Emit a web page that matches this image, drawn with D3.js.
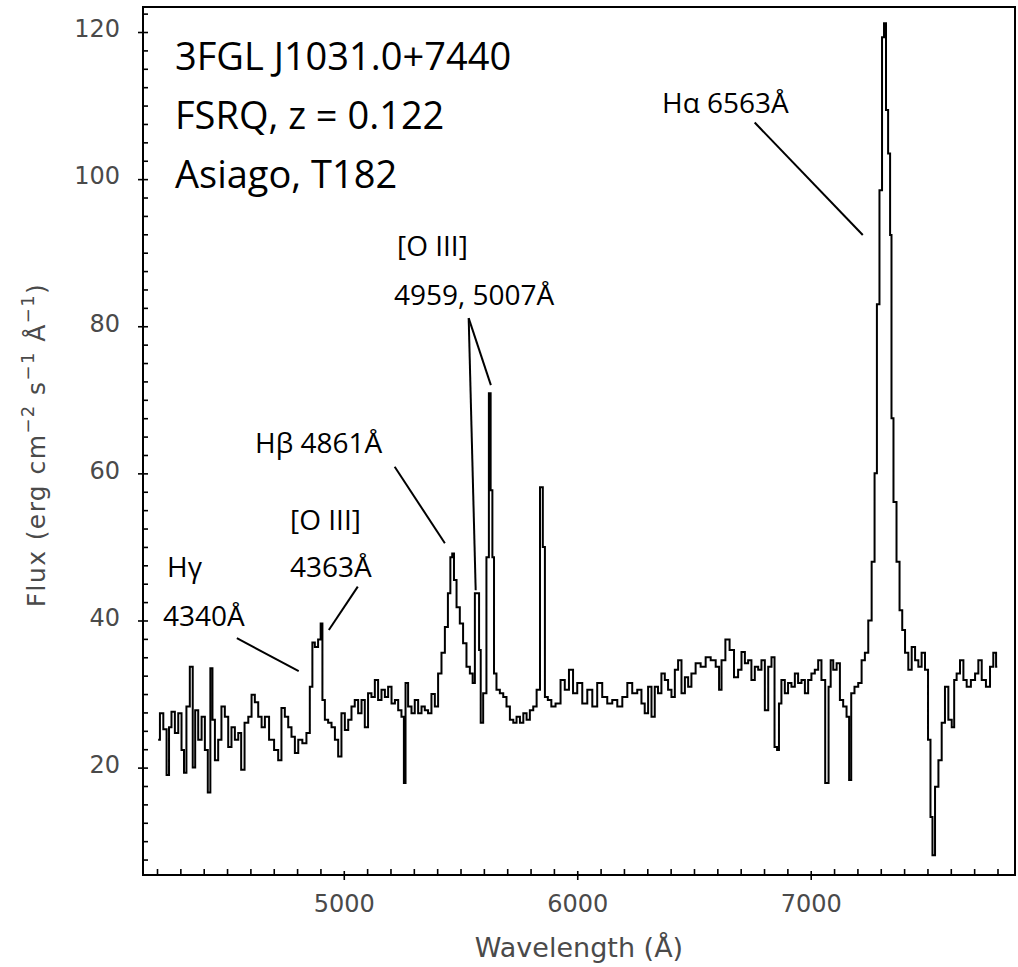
<body style="margin:0;background:#fff">
<script src="https://cdn.jsdelivr.net/npm/d3@7"></script>
<script>
// spectrum (wavelength in A, flux)
var wave = [4205,4220,4234,4248,4255,4269,4284,4298,4312,4319,4333,4348,4358,4369,4384,4398,4412,4423,4434,4441,
	4455,4469,4483,4498,4512,4526,4541,4555,4566,4584,4598,4612,4626,4641,4655,4669,4691,4712,4726,4740,
	4755,4769,4783,4798,4812,4833,4847,4862,4869,4883,4897,4905,4912,4926,4940,4955,4969,4983,4997,5012,
	5026,5040,5054,5069,5083,5097,5111,5126,5140,5154,5169,5183,5197,5212,5226,5240,5254,5261,5268,5283,
	5297,5311,5326,5340,5354,5368,5383,5397,5411,5426,5440,5452,5461,5468,5476,5490,5504,5518,5533,5547,
	5557,5566,5576,5583,5590,5604,5618,5625,5633,5640,5647,5661,5676,5690,5704,5719,5733,5747,5762,5776,
	5790,5804,5819,5833,5848,5857,5866,5882,5896,5918,5939,5954,5975,5989,6011,6032,6054,6075,6096,6118,
	6139,6161,6182,6204,6225,6246,6268,6282,6296,6311,6325,6339,6353,6368,6382,6396,6411,6425,6439,6454,
	6468,6482,6496,6518,6539,6561,6582,6604,6611,6625,6644,6661,6682,6696,6711,6725,6739,6753,6768,6782,
	6796,6811,6825,6839,6851,6861,6867,6882,6896,6910,6925,6939,6953,6968,6982,6996,7010,7025,7039,7053,
	7071,7082,7089,7104,7118,7132,7146,7161,7168,7179,7196,7211,7225,7239,7254,7268,7279,7288,7301,7310,
	7318,7327,7336,7344,7348,7361,7374,7387,7397,7411,7425,7440,7454,7468,7482,7497,7508,7518,7525,7540,
	7554,7568,7582,7597,7611,7618,7632,7647,7661,7675,7697,7711,7725,7740,7761,7775,7789,7799];
var flux = [23.8,27.4,25.2,19.0,25.5,27.6,24.7,27.4,22.4,19.3,28.3,33.7,20.0,27.8,23.8,26.9,22.4,16.6,33.5,26.5,
	21.0,23.8,28.3,26.9,22.8,25.5,23.8,24.7,19.7,26.1,26.9,29.9,28.9,26.9,25.5,26.9,23.8,22.4,21.0,28.1,
	26.9,25.5,24.2,22.0,23.8,23.3,24.7,31.0,37.0,36.4,37.4,39.6,29.2,26.5,26.1,25.5,23.8,21.5,27.4,25.1,
	26.5,28.3,29.2,27.4,29.2,25.5,30.1,29.6,31.9,29.2,30.6,29.6,31.0,28.7,29.2,27.8,26.9,17.9,31.5,28.3,
	27.4,29.2,27.4,28.3,27.8,27.4,30.0,28.3,32.8,35.6,39.1,43.7,48.6,49.1,45.5,41.8,39.6,36.9,33.7,32.8,
	31.5,43.7,43.7,36.0,26.1,30.1,48.6,70.9,57.7,48.6,32.8,30.6,30.1,29.6,28.3,26.5,26.1,26.9,26.1,27.4,
	26.5,27.8,28.3,30.6,58.1,50.0,29.6,29.2,28.3,28.7,31.9,30.6,33.3,30.1,31.5,28.7,30.6,28.3,31.5,29.6,
	28.7,29.2,28.3,29.6,31.5,30.1,30.6,28.7,27.4,31.0,26.9,31.0,30.1,32.8,31.9,30.6,29.6,33.3,34.6,30.1,
	32.3,31.0,32.8,34.2,33.7,35.0,34.6,33.7,30.6,34.6,37.4,36.0,32.3,33.3,35.7,34.2,34.6,31.9,33.7,33.3,
	34.6,27.8,33.7,35.0,22.8,22.4,28.7,31.9,30.1,31.5,31.0,32.8,31.5,31.9,30.1,31.9,32.8,33.3,34.6,31.9,
	17.9,31.0,34.6,33.3,34.2,29.2,28.3,26.9,18.3,30.1,31.0,31.5,34.6,35.6,40.0,48.0,60.0,83.0,98.5,119.3,
	121.2,109.4,103.5,92.4,67.5,56.1,48.0,41.4,38.7,35.6,33.3,36.4,34.6,33.7,35.6,33.3,23.8,13.3,8.1,17.4,
	21.0,26.1,31.0,26.5,25.5,31.9,32.8,34.6,31.9,31.0,31.9,32.8,34.6,31.9,31.0,33.7,35.6,33.7];

var xTicks = [5000,6000,7000];
var yTicks = [20,40,60,80,100,120];

// line identifications: label lines and pointer segments (data units)
var lineLabels = [
	{text:["H\u03b1 6563\u00c5"], x:[6363], y:[109.0]},
	{text:["[O III]","4959, 5007\u00c5"], x:[5228,5215], y:[89.5,82.9]},
	{text:["H\u03b2 4861\u00c5"], x:[4620], y:[62.8]},
	{text:["[O III]","4363\u00c5"], x:[4770,4770], y:[52.3,45.9]},
	{text:["H\u03b3","4340\u00c5"], x:[4243,4226], y:[45.9,39.2]}
];
var pointers = [
	[[4542,37.6],[4807,33.1]],
	[[5060,44.6],[4936,38.7]],
	[[5218,60.9],[5433,50.5]],
	[[5535,81.1],[5565,44.1]],
	[[5535,81.1],[5630,72.0]],
	[[6760,107.7],[7223,92.4]]
];
var infoText = ["3FGL J1031.0+7440","FSRQ, z = 0.122","Asiago, T182"];

var W = 1018, H = 967;
var mLeft = 143, mTop = 7, mRight = 1015, mBottom = 875;

var svg = d3.select("body").append("svg").attr("width", W).attr("height", H);

var x = d3.scaleLinear().domain([4140,7875]).range([mLeft,mRight]);
var y = d3.scaleLinear().domain([5.4,123.4]).range([mBottom,mTop]);

var labelColor = "#4a4a4a";

// minor ticks (inside only)
var xMinor = d3.range(4200,7900,100).filter(function(d){return xTicks.indexOf(d)<0;});
var yMinor = d3.range(7.5,123,2.5).filter(function(d){return yTicks.indexOf(d)<0;});

svg.append("g").attr("transform","translate(0,"+mBottom+")")
	.call(d3.axisBottom(x).tickValues(xMinor).tickSize(-6).tickFormat(""))
	.call(function(g){g.select(".domain").remove();});
svg.append("g").attr("transform","translate("+mLeft+",0)")
	.call(d3.axisLeft(y).tickValues(yMinor).tickSize(-5).tickFormat(""))
	.call(function(g){g.select(".domain").remove();});

// major ticks crossing the frame
var gx = svg.append("g").attr("transform","translate(0,"+mBottom+")")
	.call(d3.axisBottom(x).tickValues(xTicks).tickSize(5).tickPadding(15).tickFormat(d3.format("d")));
gx.select(".domain").remove();
gx.selectAll(".tick line").attr("y1",-4);
gx.selectAll(".tick text").attr("fill",labelColor).style("font","24px 'DejaVu Sans'");

var gy = svg.append("g").attr("transform","translate("+mLeft+",0)")
	.call(d3.axisLeft(y).tickValues(yTicks).tickSize(5).tickPadding(18));
gy.select(".domain").remove();
gy.selectAll(".tick line").attr("x1",5);
gy.selectAll(".tick text").attr("fill",labelColor).attr("dy","0.2em").style("font","24px 'DejaVu Sans'");

svg.selectAll(".tick line").attr("stroke","#000").attr("stroke-width",1.6);

// frame
svg.append("rect").attr("x",mLeft).attr("y",mTop).attr("width",mRight-mLeft).attr("height",mBottom-mTop)
	.attr("fill","none").attr("stroke","#000").attr("stroke-width",2);

// spectrum
var line = d3.line().x(function(d,i){return x(wave[i]);}).y(function(d){return y(d);}).curve(d3.curveStep);
svg.append("path").datum(flux).attr("d",line)
	.attr("fill","none").attr("stroke","#000").attr("stroke-width",2);

// axis titles
svg.append("text").attr("x",(mLeft+mRight)/2).attr("y",957).attr("text-anchor","middle")
	.attr("fill",labelColor).style("font","27px 'DejaVu Sans'").text("Wavelength (\u00c5)");

var yt = svg.append("text").attr("transform","translate(45,445) rotate(-90)").attr("text-anchor","middle")
	.attr("fill",labelColor).style("font","25px 'DejaVu Sans'").style("letter-spacing","1.4px");
yt.append("tspan").text("Flux (erg cm");
yt.append("tspan").attr("dy",-11).style("font-size","18px").text("\u22122");
yt.append("tspan").attr("dy",11).text(" s");
yt.append("tspan").attr("dy",-11).style("font-size","18px").text("\u22121");
yt.append("tspan").attr("dy",11).text(" \u00c5");
yt.append("tspan").attr("dy",-11).style("font-size","18px").text("\u22121");
yt.append("tspan").attr("dy",11).text(")");

// annotations
var annFont = "'Open Sans', sans-serif";
svg.selectAll(".info").data(infoText).enter().append("text")
	.attr("x",175).attr("y",function(d,i){return 70+i*59;})
	.style("font","38px "+annFont).attr("fill","#000").text(function(d){return d;});

lineLabels.forEach(function(l){
	l.text.forEach(function(t,i){
		svg.append("text").attr("x",x(l.x[i])).attr("y",y(l.y[i]))
			.style("font","28px "+annFont).attr("fill","#000").text(t);
	});
});

svg.selectAll(".ptr").data(pointers).enter().append("line")
	.attr("x1",function(d){return x(d[0][0]);}).attr("y1",function(d){return y(d[0][1]);})
	.attr("x2",function(d){return x(d[1][0]);}).attr("y2",function(d){return y(d[1][1]);})
	.attr("stroke","#000").attr("stroke-width",2);
</script>
</body>
